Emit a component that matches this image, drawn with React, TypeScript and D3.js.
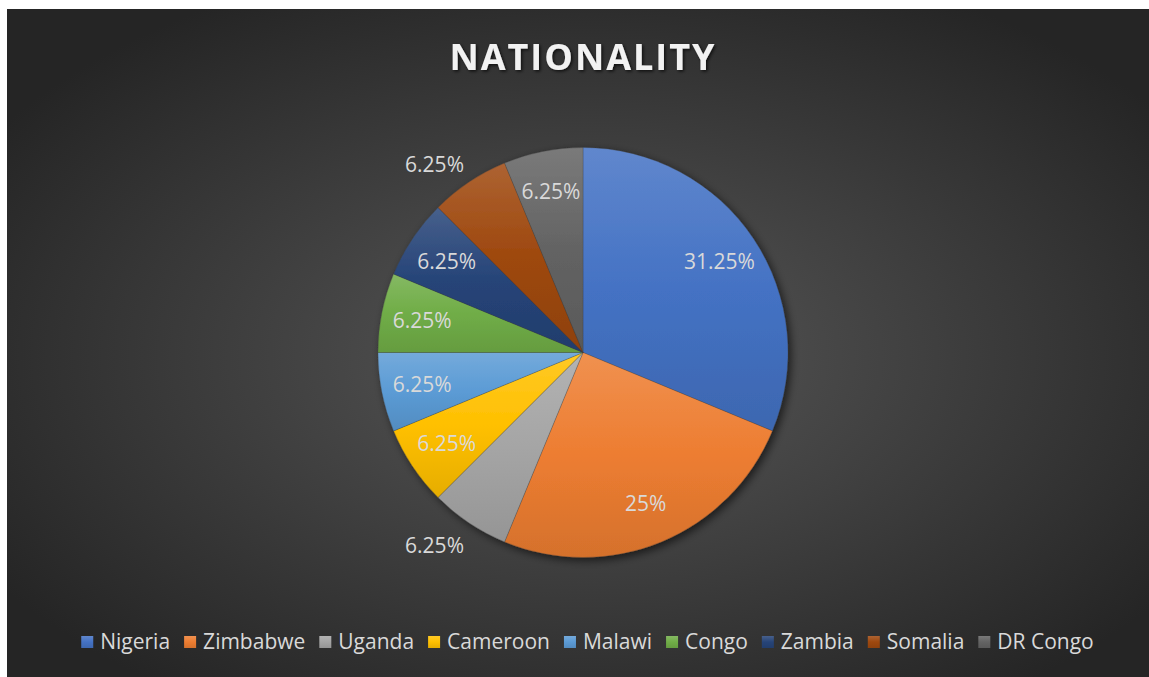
import React, { useRef, useEffect } from "react";
import * as d3 from "d3";

const categories = ["Nigeria", "Zimbabwe", "Uganda", "Cameroon", "Malawi", "Congo", "Zambia", "Somalia", "DR Congo"];
const values = [31.25, 25, 6.25, 6.25, 6.25, 6.25, 6.25, 6.25, 6.25];
const labels = ["31.25%", "25%", "6.25%", "6.25%", "6.25%", "6.25%", "6.25%", "6.25%", "6.25%"];
const labelOutside = [false, false, true, false, false, false, false, true, false];
const colors = ["#4472C4", "#ED7D31", "#A5A5A5", "#FFC000", "#5B9BD5", "#70AD47", "#264478", "#9E480E", "#636363"];

const W = 1142;
const H = 668;
const FONT = "'Open Sans', sans-serif";

const App = () => {
  const svgRef = useRef<SVGSVGElement>(null);

  useEffect(() => {
    const svg = d3.select(svgRef.current);
    svg.selectAll("*").remove();

    const defs = svg.append("defs");
    const bg = defs.append("radialGradient").attr("id", "bg").attr("cx", "51%").attr("cy", "52%").attr("r", "62%");
    bg.append("stop").attr("offset", "0%").attr("stop-color", "#585858");
    bg.append("stop").attr("offset", "100%").attr("stop-color", "#252525");

    colors.forEach((c, i) => {
      const g = defs.append("linearGradient").attr("id", `sl${i}`).attr("x1", 0).attr("y1", 0).attr("x2", 0).attr("y2", 1);
      g.append("stop").attr("offset", "0%").attr("stop-color", d3.interpolateRgb(c, "#ffffff")(0.15));
      g.append("stop").attr("offset", "50%").attr("stop-color", c);
      g.append("stop").attr("offset", "100%").attr("stop-color", d3.interpolateRgb(c, "#000000")(0.1));
    });

    const sh = defs.append("filter").attr("id", "shadow").attr("x", "-20%").attr("y", "-20%").attr("width", "140%").attr("height", "140%");
    sh.append("feDropShadow").attr("dx", 3).attr("dy", 3).attr("stdDeviation", 4).attr("flood-color", "#000").attr("flood-opacity", 0.6);
    const tsh = defs.append("filter").attr("id", "tshadow");
    tsh.append("feDropShadow").attr("dx", 1.5).attr("dy", 1.5).attr("stdDeviation", 1.5).attr("flood-color", "#000").attr("flood-opacity", 0.7);

    svg.append("rect").attr("width", W).attr("height", H).attr("fill", "url(#bg)");

    // title
    svg.append("text")
      .attr("x", 576).attr("y", 61)
      .attr("text-anchor", "middle")
      .attr("font-family", FONT).attr("font-weight", 700).attr("font-size", 36)
      .attr("letter-spacing", 2)
      .attr("fill", "#f2f2f2")
      .attr("filter", "url(#tshadow)")
      .text("NATIONALITY");

    // pie
    const cx = 576, cy = 343.5, R = 205;
    const pie = d3.pie<number>().sort(null).value((d) => d);
    const arcs = pie(values);
    const arc = d3.arc<d3.PieArcDatum<number>>().innerRadius(0).outerRadius(R);

    const g = svg.append("g").attr("transform", `translate(${cx},${cy})`);
    g.append("g").attr("filter", "url(#shadow)")
      .selectAll("path").data(arcs).enter().append("path")
      .attr("d", arc)
      .attr("fill", (d, i) => `url(#sl${i})`)
      .attr("stroke", "rgba(60,60,60,0.5)")
      .attr("stroke-width", 0.5);

    const inArc = d3.arc<d3.PieArcDatum<number>>().innerRadius(R * 0.8).outerRadius(R * 0.8);
    const outArc = d3.arc<d3.PieArcDatum<number>>().innerRadius(R * 1.08).outerRadius(R * 1.08);
    g.selectAll("text.lbl").data(arcs).enter().append("text")
      .attr("class", "lbl")
      .attr("transform", (d, i) => {
        if (!labelOutside[i]) return `translate(${inArc.centroid(d)})`;
        const [px, py] = outArc.centroid(d);
        return `translate(${px + 4},${py + (py > 0 ? 9 : -4)})`;
      })
      .attr("text-anchor", (d, i) => (labelOutside[i] ? "end" : "middle"))
      .attr("dy", "0.35em")
      .attr("font-family", FONT).attr("font-size", 21)
      .attr("fill", "#d9d9d9")
      .text((d, i) => labels[i]);

    // legend
    const leg = svg.append("g").attr("transform", "translate(0,640)");
    const items = leg.selectAll("g").data(categories).enter().append("g");
    items.append("rect").attr("width", 12).attr("height", 12).attr("y", -13)
      .attr("fill", (d, i) => `url(#sl${i})`);
    const texts = items.append("text").attr("x", 19).attr("y", 0)
      .attr("font-family", FONT).attr("font-size", 21).attr("fill", "#d9d9d9")
      .text((d) => d);
    const widths: number[] = [];
    texts.each(function () { widths.push((this as SVGTextElement).getComputedTextLength()); });
    const gap = 14;
    const total = widths.reduce((a, w) => a + 19 + w, 0) + gap * (widths.length - 1);
    let x = 580.5 - total / 2;
    items.attr("transform", (d, i) => {
      const t = `translate(${x},0)`;
      x += 19 + widths[i] + gap;
      return t;
    });
  }, []);

  return (
    <svg
      ref={svgRef}
      width={W}
      height={H}
      style={{ position: "absolute", left: 7, top: 9, display: "block" }}
    />
  );
};

export default App;
